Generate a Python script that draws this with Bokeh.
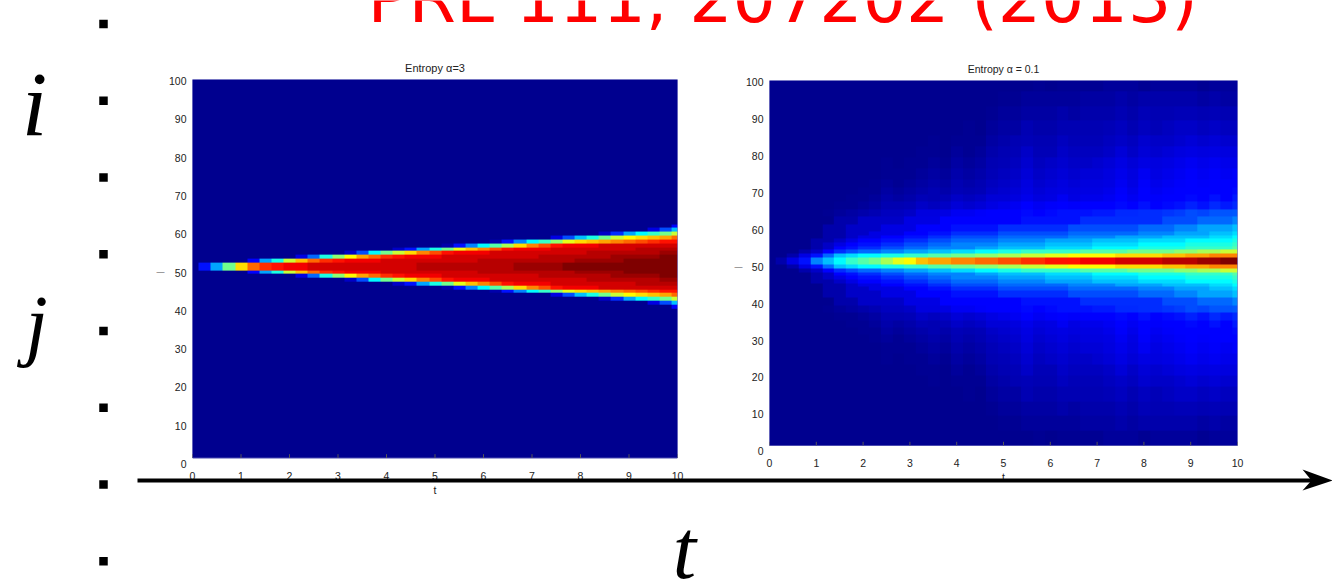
import numpy as np
from bokeh.core.properties import value
from bokeh.embed import file_html
from bokeh.models import FixedTicker, LinearColorMapper, Range1d
from bokeh.plotting import figure
from bokeh.resources import INLINE

PAGE_W, PAGE_H = 1332, 579
HEADING = "PRL 111, 207202 (2013)"
X_TICKS = list(range(0, 11))
Y_TICKS = list(range(0, 101, 10))
SITE_INDEX = [0, 1, 2, 3, 4, 5, 6, 7]

# Levels in base 36 (0 = bottom of the colour scale, z = top).
# Each string is a row at a given distance from the centre line, one character per time step of 0.25.
LEFT_LEVELS = [
    "05ahnrtuvvwwwwwwwwwxxxxxxxxyyyyzzzzzzzzzz",
    "000004aekortuvvvwwwwwwwwxxxxxxxxyyyyzzzzz",
    "00000000038eimprtuvvvwwwwwwwwxxxxxxyyyyzz",
    "000000000000027dhknqsuvvvwwwwwwwwxxxxxxyy",
    "0000000000000000025aehloqsuvvvwwwwwwwxxxx",
    "000000000000000000000159dgjnqsuvvvwwwwwww",
    "0000000000000000000000000159dfilnopqrstuu",
    "00000000000000000000000000000037behkmnopr",
    "000000000000000000000000000000000026adfhk",
    "0000000000000000000000000000000000000037b",
    "00000000000000000000000000000000000000004",
]
# Right panel, rows near the centre line (same scale as the left panel).
RIGHT_NEAR = [
    "0135 9bdfgh jlmoppqqrr ssttuuuvvv wwwwxxxyyz z",
    "001358bcdd eeffgghhii jjkkllmmmm nnnnooppqq q",
    "0001246788 99aabbccdd eefffffggg ghhhhiijjk k",
    "0000124566 77889999aa bbbbccccdd ddeeeeffff g",
    "0000123455 6677889999 aaaabbbbcc ccddddeeee f",
    "0000112344 5566778888 9999aaaabb bbccccdddd e",
    "0000011233 4455667777 8888889999 aaaabbbbcc d",
    "0000011223 3344556666 7777778888 88999aaabb c",
    "0000011222 3334445555 6666667777 7788899aaa b",
    "0000001122 2233344444 4455555666 6666777888 9",
]
# Right panel, rows far from the centre line: one step here is a quarter of a step above.
RIGHT_FAR = [
    "0000012345 778bbceefh hhjijkkkll nnoopqsrtt u",
    "0000001123 55687 8a9ac degefgfggh jhkijkmknl n",
    "0000000112 434656878a abdbcecdde gehfghjhki l",
    "0000000011 3234546568 9acabcbccd fdgefgigih j",
    "0000000001 2123435457 89b9ababbc ecfdefgfhg h",
    "0000000000 1112324346 78a89a9aab dbecdefefe f",
    "0000000000 1011213235 679789889a cacbcdeded d",
    "0000000000 0001102124 5686687778 a8a9abcbcb b",
    "0000000000 0000101113 4565576667 879889a9a9 9",
    "0000000000 0000000102 3354455556 7576788787 7",
    "0000000000 0000000001 2233343444 5465566565 5",
    "0000000000 0000000000 1122222333 4344444343 3",
    "0000000000 0000000000 0001011112 2212222122 2",
]
RIGHT_SPANS = [1, 1, 1, 1, 1, 1, 1, 1, 2, 2, 2, 2, 2, 2, 2, 3, 3, 3, 3, 4, 4, 4, 4]


def jet():
    out = []
    for v in np.linspace(0, 1, 256):
        r = np.clip(min(4 * v - 1.5, -4 * v + 4.5), 0, 1)
        g = np.clip(min(4 * v - 0.5, -4 * v + 3.5), 0, 1)
        b = np.clip(min(4 * v + 0.5625, -4 * v + 2.5), 0, 1)
        out.append("#%02x%02x%02x" % (int(r * 255), int(g * 255), int(b * 255)))
    return out


MAPPER = LinearColorMapper(palette=jet(), low=0, high=35)


def decode(rows):
    return np.array([[int(c, 36) for c in r.replace(" ", "")] for r in rows], dtype=float)


def mirrored(by_distance):
    """Rows 2..100 of the map from the rows listed by distance from the centre (51.5)."""
    n_t = by_distance.shape[1]
    out = []
    for row in range(2, 101):
        d = row - 52 if row >= 52 else 51 - row
        out.append(by_distance[d] if d < len(by_distance) else np.zeros(n_t))
    return np.array(out)


def panel(levels, title, title_size, frame, label_zero, label_step, heat_bottom):
    left, right, top, bottom = frame
    b_l, b_r, b_t, b_b = 40, 15, 25, 22
    to_v = lambda y: (label_zero - y) / label_step
    p = figure(
        frame_width=right - left, frame_height=bottom - top,
        x_range=Range1d(0, 10), y_range=Range1d(to_v(bottom), to_v(top)),
        output_backend="svg", toolbar_location=None,
        min_border_left=b_l, min_border_right=b_r, min_border_top=b_t, min_border_bottom=b_b,
        title=title,
        styles={"position": "absolute", "left": f"{left - b_l}px", "top": f"{top - b_t}px"},
    )
    p.title.align = "center"
    p.title.text_font = "Liberation Sans"
    p.title.text_font_size = title_size
    p.title.text_font_style = "normal"
    p.title.text_color = "#222222"
    p.title.standoff = 11
    p.outline_line_color = None
    p.border_fill_alpha = 0
    p.background_fill_alpha = 0
    p.grid.visible = False
    dt = 10 / (levels.shape[1] - 1)
    p.image(image=[levels], x=-dt / 2, y=1.5, dw=10 + dt, dh=99, color_mapper=MAPPER)
    v_b = to_v(heat_bottom)
    p.quad(left=0, right=10, bottom=to_v(bottom), top=v_b, fill_color="white", line_color=None)
    p.quad(left=0, right=10, bottom=v_b, top=to_v(top), fill_alpha=0, line_color="#4a4ab0", line_width=1)
    p.segment(x0=X_TICKS, x1=X_TICKS, y0=[v_b] * 11, y1=[v_b + 1] * 11, line_color="#555555", line_width=1)
    for ax in (p.xaxis[0], p.yaxis[0]):
        ax.axis_line_color = None
        ax.major_tick_line_color = None
        ax.minor_tick_line_color = None
        ax.major_label_text_font = "Liberation Sans"
        ax.major_label_text_font_size = "10.5px"
        ax.major_label_text_color = "#222222"
    p.xaxis[0].ticker = FixedTicker(ticks=X_TICKS)
    p.yaxis[0].ticker = FixedTicker(ticks=Y_TICKS)
    p.xaxis[0].major_label_standoff = -2
    p.yaxis[0].major_label_standoff = 0
    p.xaxis[0].axis_label = "t"
    p.xaxis[0].axis_label_text_font = "Liberation Sans"
    p.xaxis[0].axis_label_text_font_style = "normal"
    p.xaxis[0].axis_label_text_font_size = "10.5px"
    p.xaxis[0].axis_label_text_color = "#222222"
    p.xaxis[0].axis_label_standoff = 1
    return p


left_panel = panel(mirrored(decode(LEFT_LEVELS)), "Entropy \u03b1=3", "11px",
                   (192, 677, 79, 467), 463.3, 3.826, 457.5)

right_by_d = np.repeat(np.vstack([decode(RIGHT_NEAR), decode(RIGHT_FAR) / 4]), RIGHT_SPANS, axis=0)
right_panel = panel(mirrored(right_by_d), "Entropy \u03b1 = 0.1", "10.5px",
                    (769, 1237, 80, 454), 450.7, 3.69, 445)

# Overlay in page pixels: sites, symbols, arrow, heading
o = figure(
    width=PAGE_W, height=PAGE_H, x_range=Range1d(0, PAGE_W), y_range=Range1d(PAGE_H, 0),
    x_axis_type=None, y_axis_type=None, min_border=0,
    output_backend="svg", toolbar_location=None,
    styles={"position": "absolute", "left": "0px", "top": "0px"},
)
o.outline_line_color = None
o.border_fill_alpha = 0
o.background_fill_alpha = 0
o.grid.visible = False

SITE_STEP = 76.75
o.extra_y_ranges["sites"] = Range1d((PAGE_H - 23.6) / SITE_STEP, -23.6 / SITE_STEP)
o.scatter(x=[103] * len(SITE_INDEX), y=SITE_INDEX, y_range_name="sites", marker="square",
          size=8.5, fill_color="black", line_color=None)

o.line(x=[137, 1315], y=[480, 480], line_color="black", line_width=4)
o.patch(x=[1302, 1332, 1302, 1311], y=[469, 480, 490, 480], fill_color="black", line_color=None)

o.text(x=[367], y=[-2], text=[HEADING], text_color="#ff0000", text_font=value("DejaVu Sans"),
       text_font_size="68.2px", text_baseline="alphabetic", text_align="left")
o.text(x=[34], y=[103], text=["i"], text_color="black",
       text_font=value("Liberation Serif"), text_font_style="italic", text_font_size="92px",
       text_baseline="alphabetic", text_align="center")
o.text(x=[684], y=[549], text=["t"], text_color="black",
       text_font=value("Liberation Serif"), text_font_style="italic", text_font_size="84px",
       text_baseline="alphabetic", text_align="center")
o.text(x=[36], y=[323], text=["j"], text_color="black",
       text_font=value("Liberation Serif"), text_font_style="italic", text_font_size="80px",
       text_baseline="alphabetic", text_align="center")
o.text(x=[160, 738], y=[271, 265.5], text=["\u2014", "\u2014"], text_color="#444444",
       text_font=value("Liberation Sans"), text_font_size="8px",
       text_baseline="middle", text_align="center")

open("out.html", "w").write(file_html([left_panel, right_panel, o], INLINE))
